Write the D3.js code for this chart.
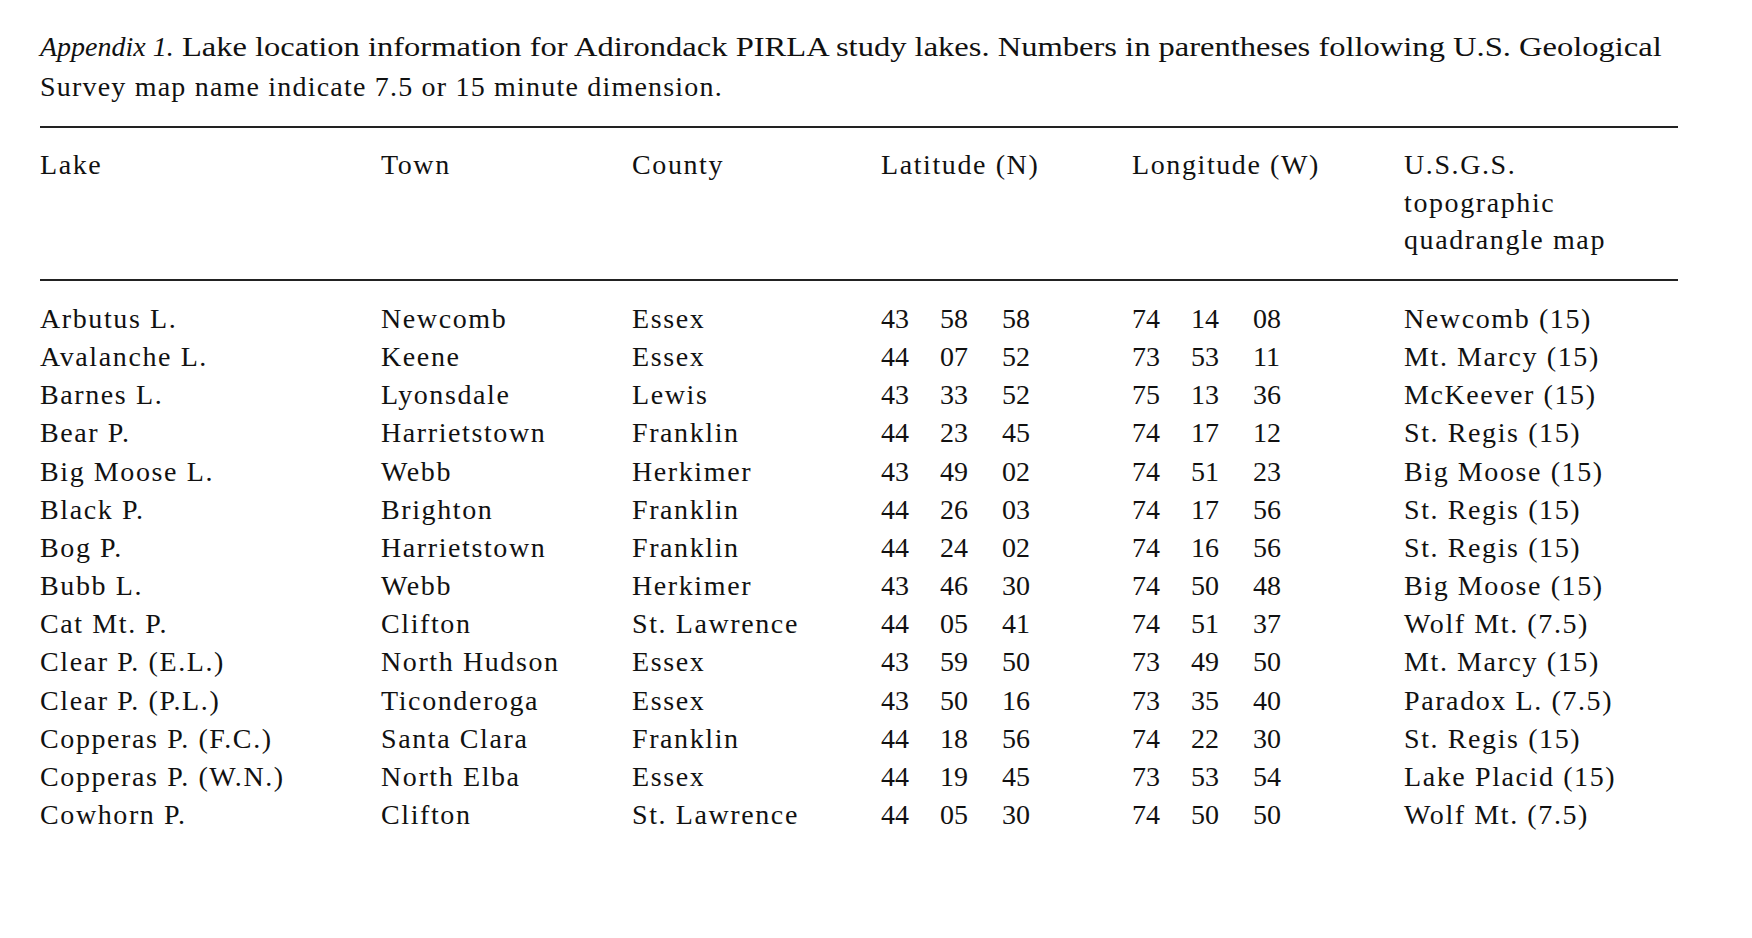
<!DOCTYPE html>
<html><head><meta charset="utf-8">
<script src="https://cdn.jsdelivr.net/npm/d3@7"></script>
<style>body{margin:0;background:#fff}svg{font-family:"Liberation Serif","DejaVu Serif",serif;fill:#111}</style>
</head><body><div id="chart"></div>
<script>
var lakes = ["Arbutus L.","Avalanche L.","Barnes L.","Bear P.","Big Moose L.","Black P.","Bog P.","Bubb L.","Cat Mt. P.","Clear P. (E.L.)","Clear P. (P.L.)","Copperas P. (F.C.)","Copperas P. (W.N.)","Cowhorn P."];
var towns = ["Newcomb","Keene","Lyonsdale","Harrietstown","Webb","Brighton","Harrietstown","Webb","Clifton","North Hudson","Ticonderoga","Santa Clara","North Elba","Clifton"];
var counties = ["Essex","Essex","Lewis","Franklin","Herkimer","Franklin","Franklin","Herkimer","St. Lawrence","Essex","Essex","Franklin","Essex","St. Lawrence"];
var latitudes = [["43","58","58"],["44","07","52"],["43","33","52"],["44","23","45"],["43","49","02"],["44","26","03"],["44","24","02"],["43","46","30"],["44","05","41"],["43","59","50"],["43","50","16"],["44","18","56"],["44","19","45"],["44","05","30"]];
var longitudes = [["74","14","08"],["73","53","11"],["75","13","36"],["74","17","12"],["74","51","23"],["74","17","56"],["74","16","56"],["74","50","48"],["74","51","37"],["73","49","50"],["73","35","40"],["74","22","30"],["73","53","54"],["74","50","50"]];
var maps = ["Newcomb (15)","Mt. Marcy (15)","McKeever (15)","St. Regis (15)","Big Moose (15)","St. Regis (15)","St. Regis (15)","Big Moose (15)","Wolf Mt. (7.5)","Mt. Marcy (15)","Paradox L. (7.5)","St. Regis (15)","Lake Placid (15)","Wolf Mt. (7.5)"];
var headers = [["Lake"],["Town"],["County"],["Latitude (N)"],["Longitude (W)"],["U.S.G.S.","topographic","quadrangle map"]];

var W = 1752, H = 938, fs = 28, ls = "1.6px";
var svg = d3.select("#chart").append("svg").attr("width", W).attr("height", H);

// caption
var cap = svg.append("text").attr("x", 40).attr("y", 56).attr("font-size", fs);
cap.append("tspan").attr("font-style", "italic").text("Appendix 1.");
cap.append("tspan").text("  Lake location information for Adirondack PIRLA study lakes. Numbers in parentheses following U.S. Geological")
    .attr("textLength", 1678 - 40 - 150).attr("lengthAdjust", "spacingAndGlyphs");
svg.append("text").attr("x", 40).attr("y", 96).attr("font-size", fs).attr("letter-spacing", "1.2px")
    .text("Survey map name indicate 7.5 or 15 minute dimension.");

var colX = [40, 381, 632, 881, 1132, 1404];
var subX = [0, 59, 121];

svg.append("line").attr("x1", 40).attr("x2", 1678).attr("y1", 127).attr("y2", 127).attr("stroke", "#222").attr("stroke-width", 2);
svg.append("line").attr("x1", 40).attr("x2", 1678).attr("y1", 280).attr("y2", 280).attr("stroke", "#222").attr("stroke-width", 2);

headers.forEach(function(h, i){
    h.forEach(function(t, j){
        svg.append("text").attr("x", colX[i]).attr("y", 174 + j*37.5).attr("font-size", fs)
            .attr("letter-spacing", ls).text(t);
    });
});

var y = d3.scaleLinear().domain([0, 13]).range([328, 824]);
var rows = svg.append("g").selectAll("g").data(lakes).enter().append("g")
    .attr("transform", function(d, i){ return "translate(0," + y(i) + ")"; })
    .attr("font-size", fs);
rows.append("text").attr("x", colX[0]).attr("letter-spacing", ls).text(function(d){ return d; });
rows.append("text").attr("x", colX[1]).attr("letter-spacing", ls).text(function(d, i){ return towns[i]; });
rows.append("text").attr("x", colX[2]).attr("letter-spacing", ls).text(function(d, i){ return counties[i]; });
[latitudes, longitudes].forEach(function(arr, c){
    subX.forEach(function(dx, k){
        rows.append("text").attr("x", colX[3 + c] + dx).text(function(d, i){ return arr[i][k]; });
    });
});
rows.append("text").attr("x", colX[5]).attr("letter-spacing", ls).text(function(d, i){ return maps[i]; });
</script></body></html>
